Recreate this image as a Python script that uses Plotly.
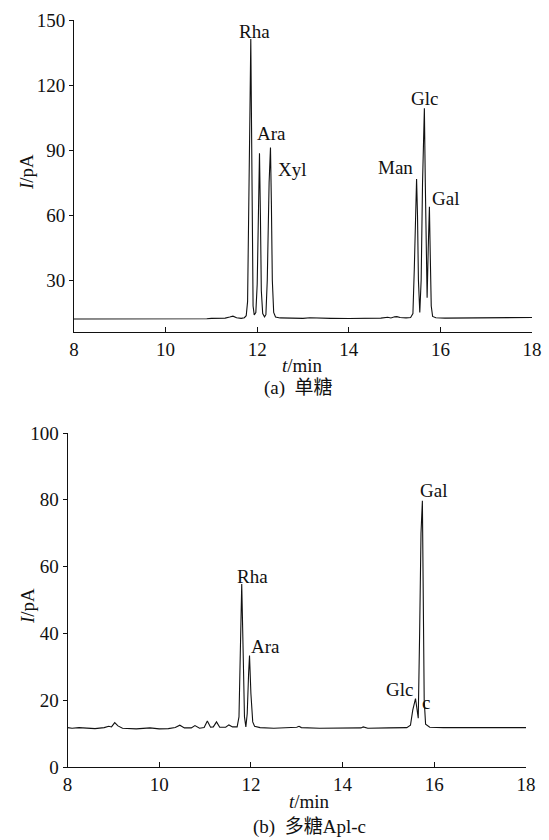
import plotly.graph_objects as go

# ---- (a) monosaccharide standards: retention time (min) vs detector current (pA)
std_time = [8.00, 8.40, 8.80, 9.20, 9.60, 10.00, 10.40, 10.50, 10.60, 10.90, 11.00, 11.20,
            11.30, 11.40, 11.47, 11.55, 11.65, 11.72, 11.76, 11.79, 11.82, 11.84, 11.86,
            11.875, 11.89, 11.91, 11.935, 11.97, 12.00, 12.03, 12.05, 12.07, 12.09, 12.12,
            12.16, 12.19, 12.22, 12.26, 12.29, 12.31, 12.33, 12.36, 12.40, 12.50, 12.70,
            13.00, 13.15, 13.30, 13.60, 14.00, 14.40, 14.70, 14.85, 14.92, 15.00, 15.05,
            15.12, 15.25, 15.35, 15.40, 15.43, 15.46, 15.48, 15.50, 15.52, 15.55, 15.58,
            15.61, 15.65, 15.67, 15.69, 15.71, 15.735, 15.76, 15.78, 15.80, 15.83, 15.90,
            16.10, 16.50, 17.00, 17.50, 18.00]
std_signal = [12.0, 12.0, 11.9, 11.9, 11.9, 11.9, 12.0, 12.2, 12.0, 12.1, 12.3, 12.2,
              12.4, 12.9, 13.3, 12.6, 12.3, 12.6, 13.5, 20.0, 60.0, 105.0, 141.2,
              100.0, 50.0, 18.0, 13.9, 15.0, 28.0, 70.0, 88.5, 60.0, 25.0, 14.5,
              13.0, 14.0, 30.0, 75.0, 91.1, 65.0, 30.0, 15.0, 12.9, 12.5, 12.3,
              12.3, 12.6, 12.4, 12.3, 12.2, 12.2, 12.4, 12.8, 12.5, 13.0, 13.1,
              12.7, 12.5, 12.7, 14.5, 35.0, 68.0, 76.6, 60.0, 30.0, 15.0, 30.0,
              75.0, 109.3, 75.0, 40.0, 21.8, 45.0, 63.8, 40.0, 18.0, 13.2, 12.6,
              12.4, 12.4, 12.5, 12.6, 12.7]

std_peak_names = ["Rha", "Ara", "Xyl", "Man", "Glc", "Gal"]
std_peak_times = [11.86, 12.05, 12.29, 15.48, 15.65, 15.76]
std_peak_heights = [141.2, 88.5, 91.1, 76.6, 109.3, 63.8]

# ---- (b) polysaccharide Apl-c hydrolysate
apl_time = [8.00, 8.10, 8.25, 8.40, 8.60, 8.80, 8.90, 8.96, 9.03, 9.10, 9.20, 9.50, 9.70,
            9.80, 10.00, 10.20, 10.35, 10.45, 10.55, 10.70, 10.78, 10.88, 10.98, 11.05,
            11.12, 11.18, 11.25, 11.32, 11.45, 11.52, 11.60, 11.70, 11.74, 11.77, 11.80,
            11.83, 11.86, 11.89, 11.92, 11.95, 11.97, 12.00, 12.04, 12.08, 12.20, 12.50,
            12.80, 13.00, 13.05, 13.10, 13.50, 14.00, 14.40, 14.45, 14.55, 15.00, 15.40,
            15.48, 15.53, 15.59, 15.62, 15.65, 15.68, 15.71, 15.74, 15.76, 15.78, 15.81,
            15.90, 16.20, 16.60, 17.00, 17.50, 18.00]
apl_signal = [11.8, 11.6, 11.8, 11.7, 11.5, 11.8, 12.2, 12.0, 13.3, 12.3, 11.6, 11.4, 11.5,
              11.7, 11.4, 11.5, 11.8, 12.5, 11.7, 11.7, 12.4, 11.6, 11.8, 13.8,
              11.9, 12.0, 13.5, 11.9, 11.9, 12.6, 12.0, 12.0, 15.0, 40.0, 54.8,
              35.0, 15.0, 12.0, 16.0, 28.0, 33.4, 22.0, 13.5, 12.2, 11.8, 11.6,
              11.7, 11.9, 12.2, 11.8, 11.6, 11.6, 11.7, 12.0, 11.6, 11.7, 11.8,
              12.5, 17.0, 20.5, 17.0, 14.6, 40.0, 70.0, 79.7, 55.0, 20.0, 12.8,
              11.9, 11.8, 11.7, 11.8, 11.8, 11.8]

apl_peak_names = ["Rha", "Ara", "Glc", "Gal"]
apl_peak_times = [11.80, 11.97, 15.59, 15.74]
apl_peak_heights = [54.8, 33.4, 20.5, 79.7]

x_ticks = [8, 10, 12, 14, 16, 18]
std_y_ticks = [30, 60, 90, 120, 150]
apl_y_ticks = [0, 20, 40, 60, 80, 100]

W, H = 549, 840
SERIF = "Liberation Serif, 'Times New Roman', 'Noto Sans CJK SC', serif"
INK = "#111111"

fig = go.Figure()
fig.add_trace(go.Scatter(x=std_time, y=std_signal, mode="lines",
                         line=dict(color=INK, width=1.1), xaxis="x", yaxis="y",
                         showlegend=False, hoverinfo="skip"))
fig.add_trace(go.Scatter(x=apl_time, y=apl_signal, mode="lines",
                         line=dict(color=INK, width=1.1), xaxis="x2", yaxis="y2",
                         showlegend=False, hoverinfo="skip"))

tick_font = dict(family=SERIF, size=19, color=INK)


def x_axis(domain, anchor):
    return dict(domain=domain, anchor=anchor, range=[8, 18], tickvals=x_ticks,
                showline=True, linecolor=INK, linewidth=1, ticks="inside",
                ticklen=5, tickcolor=INK, tickwidth=1, showgrid=False,
                zeroline=False, tickfont=tick_font, fixedrange=True,
                automargin=False)


def y_axis(domain, anchor, rng, ticks):
    return dict(domain=domain, anchor=anchor, range=rng, tickvals=ticks,
                showline=True, linecolor=INK, linewidth=1, ticks="outside",
                ticklen=4, tickcolor=INK, tickwidth=1, showgrid=False,
                zeroline=False, tickfont=tick_font, fixedrange=True,
                automargin=False)


# plot-area edges in pixels (left, right, top, bottom)
top_box = (74, 532, 20, 332)
bot_box = (67.5, 526, 433, 767)


def xdom(b):
    return [b[0] / W, b[1] / W]


def ydom(b):
    return [1 - b[3] / H, 1 - b[2] / H]


fig.update_layout(
    width=W, height=H,
    margin=dict(l=0, r=0, t=0, b=0),
    paper_bgcolor="white", plot_bgcolor="white",
    xaxis=x_axis(xdom(top_box), "y"),
    yaxis=y_axis(ydom(top_box), "x", [6, 150], std_y_ticks),
    xaxis2=x_axis(xdom(bot_box), "y2"),
    yaxis2=y_axis(ydom(bot_box), "x2", [0, 100], apl_y_ticks),
)

label_font = dict(family=SERIF, size=19, color=INK)
annotations = []

# peak labels: pixel offsets from each apex
std_offsets = [(4, 8), (12, 20), (22, -22), (-21, 12), (0, 10), (16, 8)]
for name, t, h, (dx, dy) in zip(std_peak_names, std_peak_times, std_peak_heights, std_offsets):
    annotations.append(dict(x=t, y=h, xref="x", yref="y", text=name, showarrow=False,
                            xshift=dx, yshift=dy, font=label_font,
                            xanchor="center", yanchor="middle"))

apl_offsets = [(11, 7), (16, 9), (-16, 9), (11, 10)]
for name, t, h, (dx, dy) in zip(apl_peak_names, apl_peak_times, apl_peak_heights, apl_offsets):
    annotations.append(dict(x=t, y=h, xref="x2", yref="y2", text=name, showarrow=False,
                            xshift=dx, yshift=dy, font=label_font,
                            xanchor="center", yanchor="middle"))
# stray glyph printed over the Glc/Gal pair
annotations.append(dict(x=apl_peak_times[2], y=apl_peak_heights[2], xref="x2", yref="y2",
                        text="c", showarrow=False, xshift=10, yshift=-4, font=label_font,
                        xanchor="center", yanchor="middle"))


def paper(px, py):
    return px / W, 1 - py / H


# axis titles and panel captions
for (px, py), txt, ang in [((27, 172), "<i>I</i>/pA", -90),
                           ((27, 606), "<i>I</i>/pA", -90),
                           ((303, 365), "<i>t</i>/min", 0),
                           ((298, 388), "(a)  单糖", 0),
                           ((309, 801), "<i>t</i>/min", 0),
                           ((309, 827), "(b)  多糖Apl-c", 0)]:
    x, y = paper(px, py)
    annotations.append(dict(x=x, y=y, xref="paper", yref="paper", text=txt,
                            showarrow=False, textangle=ang, font=label_font,
                            xanchor="center", yanchor="middle"))

fig.update_layout(annotations=annotations)
fig.write_html("out.html")
